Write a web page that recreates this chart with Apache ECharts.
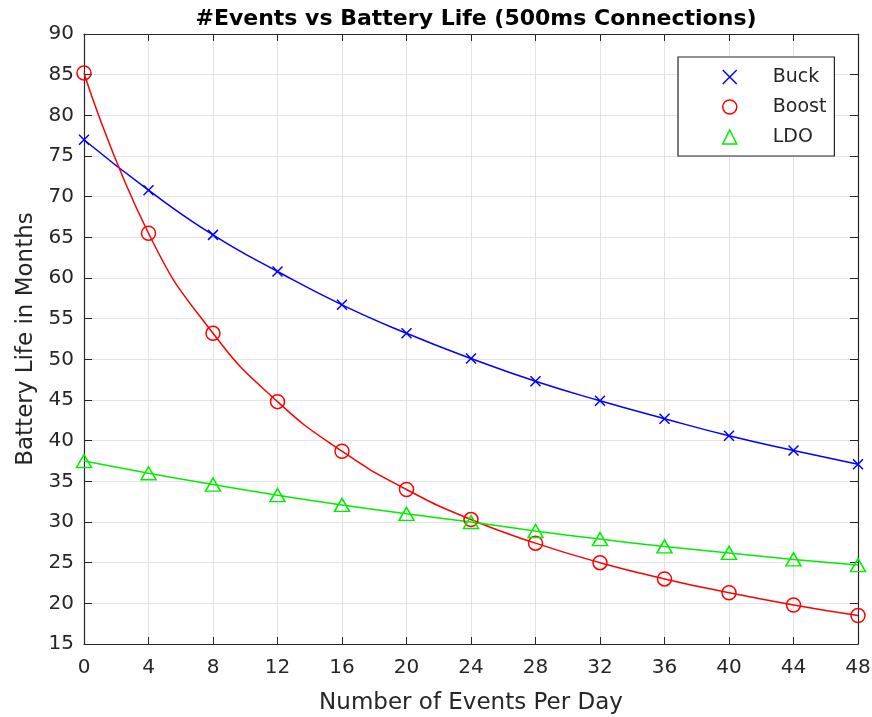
<!DOCTYPE html>
<html>
<head>
<meta charset="utf-8">
<script src="https://cdn.jsdelivr.net/npm/echarts@6/dist/echarts.min.js"></script>
<style>
html,body{margin:0;padding:0;background:#fff;}
#c{width:872px;height:717px;}
</style>
</head>
<body>
<div id="c"></div>
<script>
const events = [0, 4, 8, 12, 16, 20, 24, 28, 32, 36, 40, 44, 48];
const buck  = [77.0, 70.8, 65.3, 60.8, 56.7, 53.2, 50.1, 47.3, 44.9, 42.7, 40.6, 38.8, 37.1];
const boost = [85.2, 65.5, 53.2, 44.8, 38.7, 34.0, 30.3, 27.4, 25.0, 23.0, 21.3, 19.8, 18.5];
const ldo   = [37.5, 36.0, 34.6, 33.3, 32.1, 31.0, 30.0, 28.9, 27.9, 27.0, 26.2, 25.4, 24.7];
const seriesNames = ['Buck', 'Boost', 'LDO'];
const titleText = '#Events vs Battery Life (500ms Connections)';
const xName = 'Number of Events Per Day';
const yName = 'Battery Life in Months';

const FONT = '"DejaVu Sans", "Liberation Sans", Arial, sans-serif';
const AX = '#262626';
const XPATH = 'path://M0,0L10,10M0,10L10,0';
const colors = ['#0000ff', '#ff0000', '#00ee00'];
const symbols = [XPATH, 'circle', 'triangle'];
const sizes = [[10, 10], 14, [15, 13]];
const dataSets = [buck, boost, ldo];

const pair = (arr) => events.map((x, i) => [x, arr[i]]);

const chart = echarts.init(document.getElementById('c'), null, {renderer: 'canvas'});
const grid = {left: 84, right: 14, top: 34, bottom: 73, containLabel: false, outerBoundsMode: 'none'};

const series = seriesNames.map((n, i) => ({
  name: n,
  type: 'line',
  data: pair(dataSets[i]),
  smooth: 0.5,
  symbol: symbols[i],
  symbolSize: sizes[i],
  showAllSymbol: true,
  lineStyle: {color: colors[i], width: 1.5},
  itemStyle: {color: 'transparent', borderColor: colors[i], borderWidth: 1.5},
  emphasis: {disabled: true},
  animation: false
}));

chart.setOption({
  animation: false,
  backgroundColor: '#fff',
  title: {
    text: titleText,
    left: 471,
    top: 3,
    textAlign: 'center',
    textStyle: {fontFamily: FONT, fontSize: 22, fontWeight: 'bold', color: '#000'}
  },
  grid: grid,
  legend: {
    orient: 'vertical',
    left: 678,
    top: 57,
    padding: [10, 8, 9, 44],
    itemGap: 10,
    itemWidth: 14,
    itemHeight: 14,
    backgroundColor: '#fff',
    borderColor: AX,
    borderWidth: 1.2,
    borderRadius: 0,
    selectedMode: false,
    formatter: (name) => '{s|}' + name,
    textStyle: {
      fontFamily: FONT, fontSize: 19, color: AX, lineHeight: 20,
      rich: {s: {width: 31}}
    },
    data: seriesNames.map((n, i) => ({
      name: n,
      icon: symbols[i],
      itemStyle: {color: 'transparent', borderColor: colors[i], borderWidth: 1.5}
    }))
  },
  xAxis: [{
    type: 'value', min: 0, max: 48, interval: 4, position: 'bottom',
    name: xName, nameLocation: 'middle', nameGap: 48,
    nameTextStyle: {fontFamily: FONT, fontSize: 23, color: AX},
    axisLine: {show: true, onZero: false, lineStyle: {color: AX, width: 1.2}},
    axisTick: {show: true, inside: true, length: 7, lineStyle: {color: AX}},
    axisLabel: {fontFamily: FONT, fontSize: 20, color: AX, margin: 14},
    splitLine: {show: true, lineStyle: {color: '#e3e3e3', width: 1}}
  }, {
    type: 'value', min: 0, max: 48, interval: 4, position: 'top',
    axisLine: {show: true, onZero: false, lineStyle: {color: AX, width: 1.2}},
    axisTick: {show: true, inside: true, length: 7, lineStyle: {color: AX}},
    axisLabel: {show: false},
    splitLine: {show: false}
  }],
  yAxis: [{
    type: 'value', min: 15, max: 90, interval: 5, position: 'left',
    name: yName, nameLocation: 'middle', nameGap: 44, nameRotate: 90,
    nameTextStyle: {fontFamily: FONT, fontSize: 23, color: AX},
    axisLine: {show: true, onZero: false, lineStyle: {color: AX, width: 1.2}},
    axisTick: {show: true, inside: true, length: 8, lineStyle: {color: AX}},
    axisLabel: {fontFamily: FONT, fontSize: 20, color: AX, margin: 10},
    splitLine: {show: true, lineStyle: {color: '#e3e3e3', width: 1}}
  }, {
    type: 'value', min: 15, max: 90, interval: 5, position: 'right',
    axisLine: {show: true, onZero: false, lineStyle: {color: AX, width: 1.2}},
    axisTick: {show: true, inside: true, length: 8, lineStyle: {color: AX}},
    axisLabel: {show: false},
    splitLine: {show: false}
  }],
  series: series
});
</script>
</body>
</html>
